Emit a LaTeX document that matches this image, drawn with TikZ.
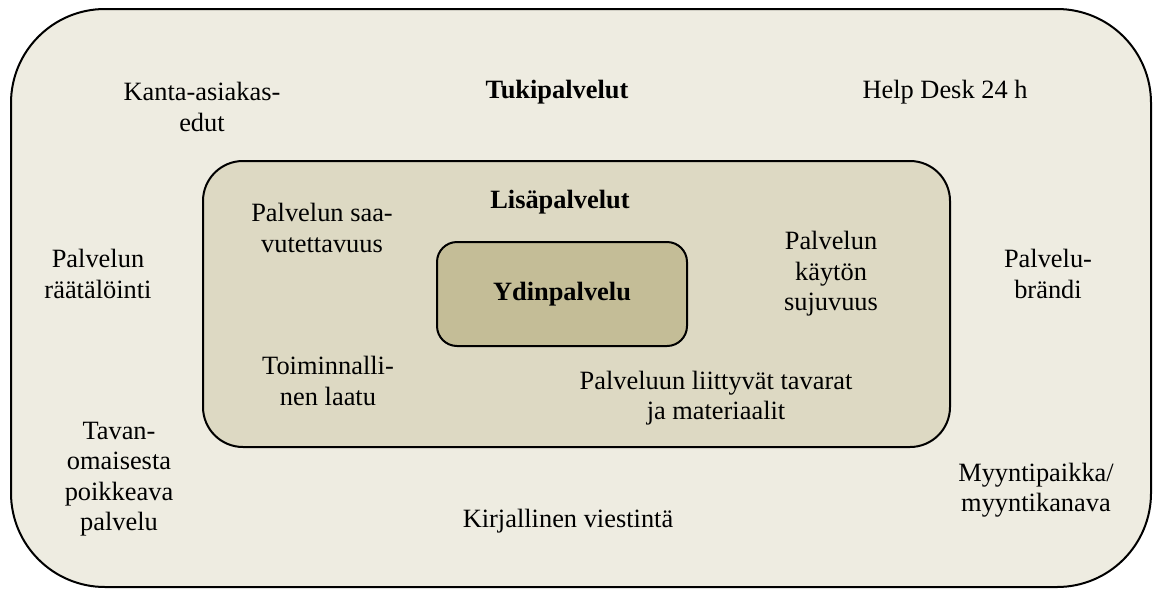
\documentclass[tikz,border=0pt]{standalone}
\usepackage{fontspec}
\setmainfont{Liberation Serif}
\definecolor{outerfill}{HTML}{EEECE1}
\definecolor{midfill}{HTML}{DDD9C3}
\definecolor{innerfill}{HTML}{C4BD97}
\begin{document}
\begin{tikzpicture}[x=0.5pt,y=-0.5pt,
  box/.style={draw=black, line width=1pt, inner sep=0pt},
  lbl/.style={align=center, inner sep=0pt, font=\fontsize{13.2pt}{15.2pt}\selectfont},
  hd/.style={lbl, font=\fontsize{13.2pt}{15.2pt}\selectfont\bfseries}]
\useasboundingbox (0,0) rectangle (1154,589);
\node[box, fill=outerfill, rounded corners=47pt, minimum width=570pt, minimum height=289pt] (outer) at (581,298) {};
\node[box, fill=midfill, rounded corners=20pt, minimum width=373.5pt, minimum height=143pt] (mid) at (576.5,304) {};
\node[box, fill=innerfill, rounded corners=10pt, minimum width=125pt, minimum height=52pt] (inner) at (562,294) {};
\node[hd] (ydin) at (562,294) {Ydinpalvelu};
\node[hd] (lisa) at (560,202) {Lisäpalvelut};
\node[hd] (tuki) at (557,92) {Tukipalvelut};
\node[lbl] (kanta) at (202,107) {Kanta-asiakas-\\edut};
\node[lbl] (help) at (945,92) {Help Desk 24 h};
\node[lbl] (saav) at (322,228) {Palvelun saa-\\vutettavuus};
\node[lbl] (kayt) at (831,274) {Palvelun\\käytön\\sujuvuus};
\node[lbl] (raat) at (98,274) {Palvelun\\räätälöinti};
\node[lbl] (brandi) at (1048,274) {Palvelu-\\brändi};
\node[lbl] (toim) at (328,381) {Toiminnalli-\\nen laatu};
\node[lbl] (tav) at (716,398) {Palveluun liittyvät tavarat\\ja materiaalit};
\node[lbl] (poik) at (119,479) {Tavan-\\omaisesta\\poikkeava\\palvelu};
\node[lbl] (kirj) at (568,521) {Kirjallinen viestintä};
\node[lbl] (myynti) at (1036,490) {Myyntipaikka/\\myyntikanava};
\end{tikzpicture}
\end{document}
